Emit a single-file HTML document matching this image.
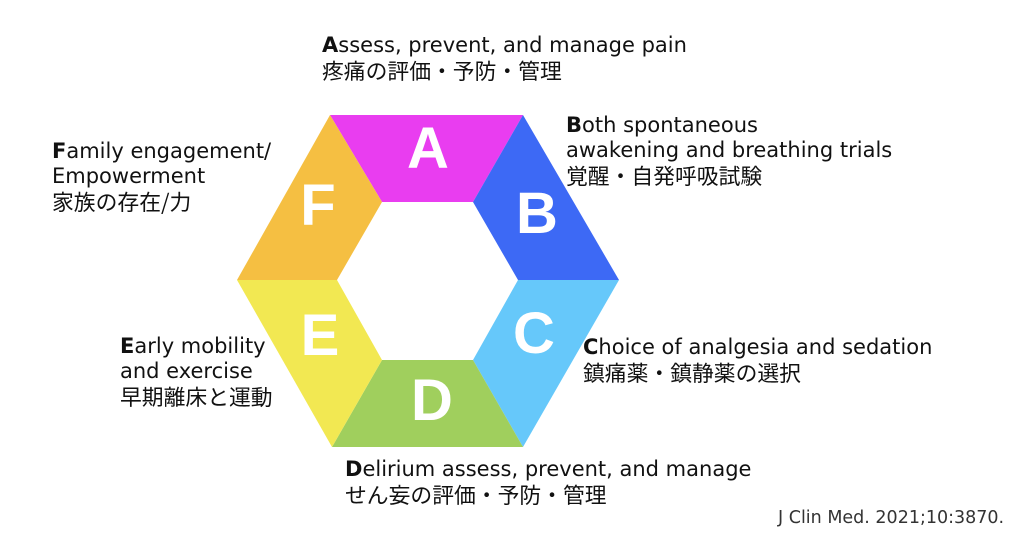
<!DOCTYPE html>
<html><head><meta charset="utf-8"><style>
html,body{margin:0;padding:0;background:#fff;width:1024px;height:538px;overflow:hidden;position:relative;font-family:"DejaVu Sans","Noto Sans CJK JP",sans-serif;}
.t{position:absolute;font-size:21px;line-height:25px;color:#111;white-space:nowrap;}
.t b{font-weight:bold;}
.j{font-family:"Noto Sans CJK JP",sans-serif;font-size:21.8px;line-height:25px;}
.cite{position:absolute;left:778px;top:508px;font-size:17.5px;color:#333;font-family:"DejaVu Sans",sans-serif;}
</style></head><body>
<svg width="1024" height="538" style="position:absolute;left:0;top:0">
<g font-family="Liberation Sans, sans-serif" font-weight="bold" font-size="58" fill="#fff" text-anchor="middle">
<polygon points="330,115 523,115 473,202 382,202" fill="#e93df0"/>
<polygon points="523,115 619,280 518,280 473,202" fill="#3d69f5"/>
<polygon points="619,280 518,280 473,360 523,447" fill="#66c8fa"/>
<polygon points="523,447 332,447 382,360 473,360" fill="#a0cf5d"/>
<polygon points="332,447 237,280 337,280 382,360" fill="#f2e852"/>
<polygon points="237,280 330,115 382,202 337,280" fill="#f5bf42"/>
<text x="428" y="168">A</text>
<text x="537" y="233">B</text>
<text x="534" y="353">C</text>
<text x="432" y="420">D</text>
<text x="320" y="355">E</text>
<text x="318" y="225">F</text>
</g></svg>
<div class="t" style="left:322px;top:33px"><b>A</b>ssess, prevent, and manage pain<br><span class="j">疼痛の評価・予防・管理</span></div>
<div class="t" style="left:566px;top:113px"><b>B</b>oth spontaneous<br>awakening and breathing trials<br><span class="j">覚醒・自発呼吸試験</span></div>
<div class="t" style="left:583px;top:335px"><b>C</b>hoice of analgesia and sedation<br><span class="j">鎮痛薬・鎮静薬の選択</span></div>
<div class="t" style="left:345px;top:457px"><b>D</b>elirium assess, prevent, and manage<br><span class="j">せん妄の評価・予防・管理</span></div>
<div class="t" style="left:120px;top:334px"><b>E</b>arly mobility<br>and exercise<br><span class="j">早期離床と運動</span></div>
<div class="t" style="left:52px;top:139px"><b>F</b>amily engagement/<br>Empowerment<br><span class="j">家族の存在/力</span></div>
<div class="cite">J Clin Med. 2021;10:3870.</div>
</body></html>
